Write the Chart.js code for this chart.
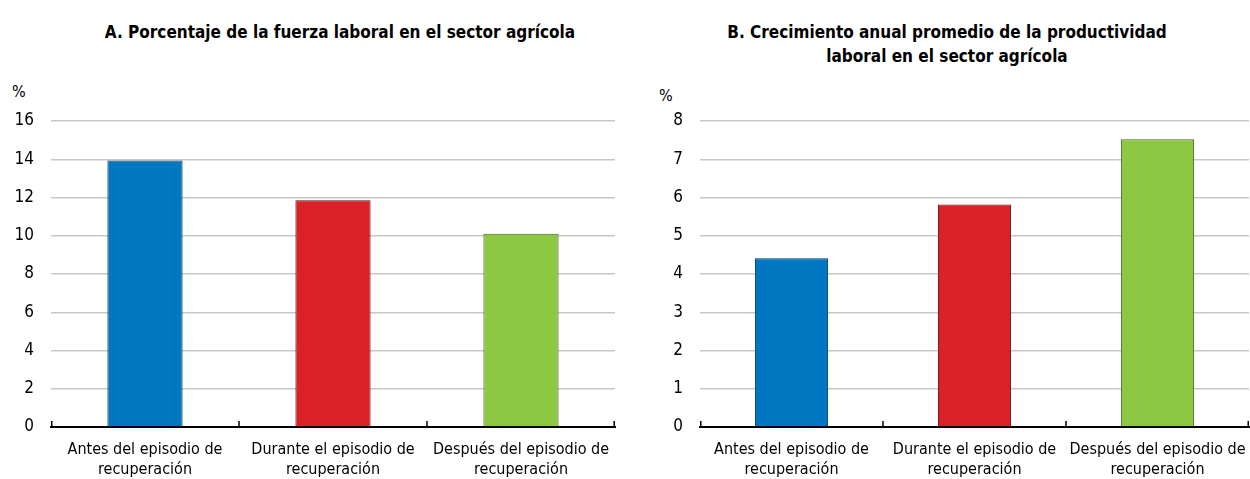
<!DOCTYPE html>
<html>
<head>
<meta charset="utf-8">
<script src="https://cdn.jsdelivr.net/npm/chart.js@4"></script>
<style>
  body { margin: 0; background: #fff; }
  #lienzo { position: relative; width: 1250px; height: 479px; overflow: hidden;
    font-family: 'Liberation Sans Narrow', 'Arial Narrow', 'DejaVu Sans Condensed', sans-serif; color: #000; }
  canvas { position: absolute; top: 0; }
  .titulo { position: absolute; font-weight: bold; font-size: 17px; line-height: 24px; text-align: center; white-space: nowrap; transform: translateX(-50%); }
  .pct { position: absolute; font-size: 16px; }
</style>
</head>
<body>
<div id="lienzo">
  <div class="titulo" style="left:340px; top:20px;">A. Porcentaje de la fuerza laboral en el sector agrícola</div>
  <div class="titulo" style="left:947px; top:20px;">B. Crecimiento anual promedio de la productividad<br>laboral en el sector agrícola</div>
  <div class="pct" style="left:12px; top:82px;">%</div>
  <div class="pct" style="left:659px; top:86px;">%</div>
  <canvas id="graficoA" width="625" height="479" style="left:0"></canvas>
  <canvas id="graficoB" width="625" height="479" style="left:625px"></canvas>
</div>
<script>
const categorias = [
  ["Antes del episodio de", "recuperación"],
  ["Durante el episodio de", "recuperación"],
  ["Después del episodio de", "recuperación"]
];
const fuerzaLaboral = [13.93, 11.85, 10.1];
const productividad = [4.41, 5.82, 7.52];
const ticksA = [0, 2, 4, 6, 8, 10, 12, 14, 16];
const ticksB = [0, 1, 2, 3, 4, 5, 6, 7, 8];

const colores = ["#0077c0", "#da2128", "#8cc841"];
const bordes = ["#08324f", "#5a0e12", "#44602a"];
const fuente = "'Liberation Sans Narrow', 'Arial Narrow', 'DejaVu Sans Condensed', sans-serif";

// marcas pequeñas sobre el eje x entre categorias
const marcasEje = {
  id: "marcasEje",
  afterDraw(chart) {
    const x = chart.scales.x;
    const ctx = chart.ctx;
    const n = chart.data.labels.length;
    const y0 = chart.chartArea.bottom;
    ctx.save();
    ctx.strokeStyle = "#000";
    ctx.lineWidth = 1.5;
    for (let i = 0; i <= n; i++) {
      let px;
      if (i === 0) px = chart.chartArea.left + 0.75;
      else if (i === n) px = chart.chartArea.right - 0.75;
      else px = (x.getPixelForValue(i - 1) + x.getPixelForValue(i)) / 2;
      ctx.beginPath();
      ctx.moveTo(px, y0);
      ctx.lineTo(px, y0 - 6);
      ctx.stroke();
    }
    ctx.restore();
  }
};

function crearGrafico(id, valores, ticks, anchoEjeY, derecha) {
  return new Chart(document.getElementById(id), {
    type: "bar",
    data: {
      labels: categorias,
      datasets: [{
        data: valores,
        backgroundColor: colores,
        borderColor: bordes,
        borderWidth: 1,
        categoryPercentage: 1,
        barPercentage: 0.4
      }]
    },
    options: {
      responsive: false,
      animation: false,
      layout: { padding: { top: 121, right: derecha, left: 0, bottom: 0 } },
      plugins: { legend: { display: false }, tooltip: { enabled: false } },
      scales: {
        x: {
          grid: { display: false },
          border: { color: "#000", width: 2 },
          ticks: { color: "#000", padding: 4, font: { family: fuente, size: 16, lineHeight: 1.3 }, maxRotation: 0, autoSkip: false },
          afterFit(scale) { scale.height = 52; }
        },
        y: {
          min: ticks[0],
          max: ticks[ticks.length - 1],
          afterBuildTicks(scale) { scale.ticks = ticks.map(v => ({ value: v })); },
          afterFit(scale) { scale.width = anchoEjeY; },
          border: { display: false },
          grid: {
            color: ctx => (ctx.tick && ctx.tick.value === 0) ? "rgba(0,0,0,0)" : "#c8c8c8",
            lineWidth: 1.5,
            drawTicks: false
          },
          ticks: { color: "#000", padding: 17, font: { family: fuente, size: 17 } }
        }
      }
    },
    plugins: [marcasEje]
  });
}

crearGrafico("graficoA", fuerzaLaboral, ticksA, 51, 10);
crearGrafico("graficoB", productividad, ticksB, 75, 1);
</script>
</body>
</html>
